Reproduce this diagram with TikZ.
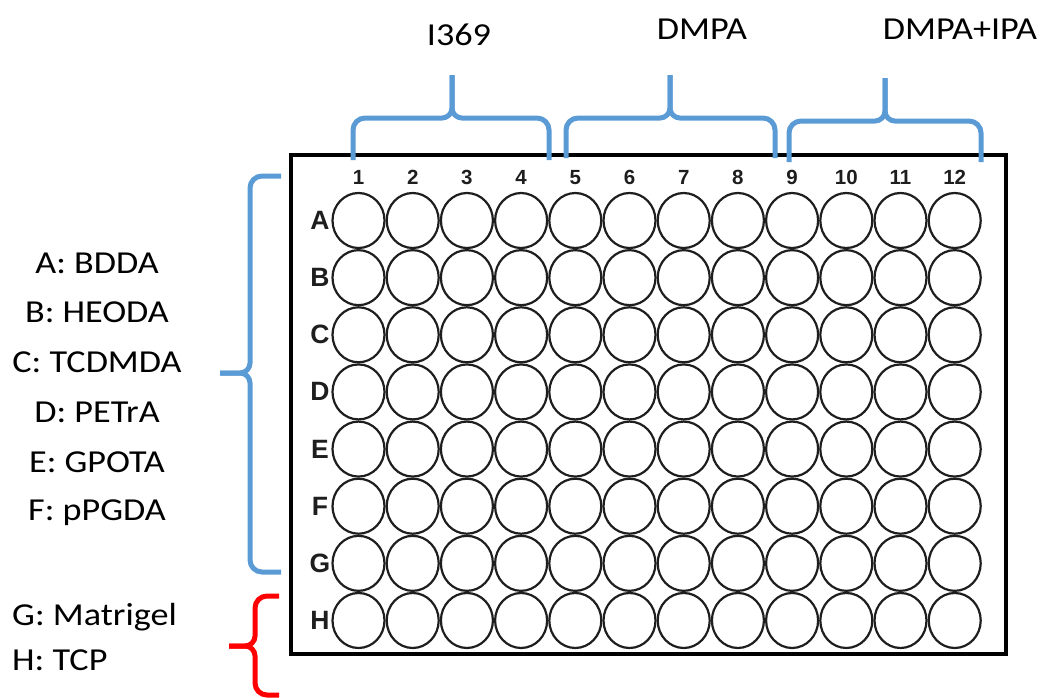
\documentclass[tikz,border=0pt]{standalone}
\usepackage{fontspec}
\setmainfont{Carlito}
\newfontfamily\lblfont[FakeStretch=1.13]{Carlito}
\newfontfamily\platefont{Liberation Sans}
\definecolor{braceblue}{HTML}{5B9BD5}
\definecolor{bracered}{HTML}{FF0000}
\definecolor{welldark}{HTML}{1E1E1E}
\tikzset{
  lbl/.style={font=\lblfont\fontsize{32}{38}\selectfont, anchor=base, inner sep=0pt},
  lblw/.style={lbl, anchor=base west},
  colnum/.style={font=\platefont\bfseries\fontsize{20.5}{24}\selectfont, anchor=base, inner sep=0pt, text=welldark},
  rowlet/.style={font=\platefont\bfseries\fontsize{26.5}{30}\selectfont, anchor=base, inner sep=0pt, text=welldark},
  well/.style={draw=welldark, line width=2.2pt},
  plate/.style={draw=black, line width=3.5pt},
  bluebrace/.style={draw=braceblue, line width=5pt},
  redbrace/.style={draw=bracered, line width=5pt},
}
\begin{document}
\begin{tikzpicture}[x=1pt,y=1pt]
\useasboundingbox (0,0) rectangle (1040,-697);
% plate
\draw[plate] (291,-155) rectangle (1006,-654);
% wells
\foreach \r in {1,...,8}{
  \foreach \c in {1,...,12}{
    \draw[well] ({358.5+54.2*(\c-1)},{-(220.5+57.14*(\r-1))}) ellipse (26 and 27.5);
  }
}
% column numbers
\foreach \c in {1,...,12}{
  \node[colnum] (col\c) at ({358.5+54.2*(\c-1)},-184) {\c};
}
% row letters
\foreach \l [count=\r] in {A,B,C,D,E,F,G,H}{
  \node[rowlet] (row\l) at (320,{-(220.5+57.14*(\r-1)+9)}) {\l};
}
% top braces
\draw[bluebrace] (452,-75) -- (452,-108) to[out=-90,in=0] (442,-118) -- (365,-118) to[out=180,in=90] (353,-130) -- (353,-160);
\draw[bluebrace] (452,-75) -- (452,-108) to[out=-90,in=180] (462,-118) -- (537,-118) to[out=0,in=90] (549,-130) -- (549,-160);
\draw[bluebrace] (670,-75) -- (670,-108) to[out=-90,in=0] (660,-118) -- (578,-118) to[out=180,in=90] (566,-130) -- (566,-158);
\draw[bluebrace] (670,-75) -- (670,-108) to[out=-90,in=180] (680,-118) -- (763,-118) to[out=0,in=90] (775,-130) -- (775,-158);
\draw[bluebrace] (885,-78) -- (885,-111) to[out=-90,in=0] (875,-121) -- (801,-121) to[out=180,in=90] (789,-133) -- (789,-162);
\draw[bluebrace] (885,-78) -- (885,-111) to[out=-90,in=180] (895,-121) -- (969,-121) to[out=0,in=90] (981,-133) -- (981,-162);
% left blue brace
\draw[bluebrace] (281,-176) -- (262,-176) to[out=180,in=90] (250,-188) -- (250,-363) to[out=-90,in=0] (240,-373) -- (220,-373);
\draw[bluebrace] (281,-572) -- (262,-572) to[out=180,in=-90] (250,-560) -- (250,-383) to[out=90,in=0] (240,-373) -- (220,-373);
% red brace
\draw[redbrace] (279,-596) -- (267,-596) to[out=180,in=90] (255,-608) -- (255,-636) to[out=-90,in=0] (245,-646) -- (229,-646);
\draw[redbrace] (279,-695) -- (267,-695) to[out=180,in=-90] (255,-683) -- (255,-656) to[out=90,in=0] (245,-646) -- (229,-646);
% top labels
\node[lbl] (tI) at (459,-45) {I369};
\node[lbl] (tD) at (702,-39) {DMPA};
\node[lbl] (tDI) at (960,-39) {DMPA+IPA};
% left labels
\node[lbl] (la) at (97,-273) {A: BDDA};
\node[lbl] (lb) at (97,-322) {B: HEODA};
\node[lbl] (lc) at (97,-372) {C: TCDMDA};
\node[lbl] (ld) at (97,-422) {D: PETrA};
\node[lbl] (le) at (97,-472) {E: GPOTA};
\node[lbl] (lf) at (97,-520) {F: pPGDA};
\node[lblw] (lg) at (12,-625) {G: Matrigel};
\node[lblw] (lh) at (12,-670) {H: TCP};
\end{tikzpicture}
\end{document}
